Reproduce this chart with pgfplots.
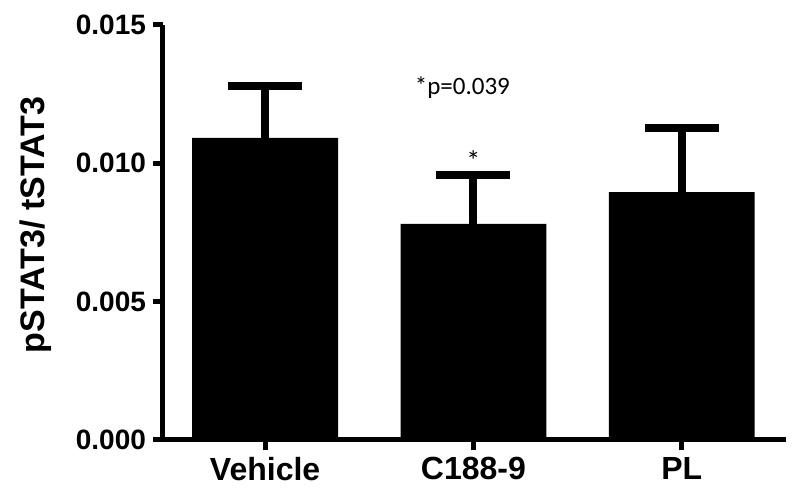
\documentclass[border=0pt]{standalone}
\usepackage{pgfplots}
\pgfplotsset{compat=1.18}
\usepackage{fontspec}
\setmainfont{Liberation Sans}
\newfontfamily\calfont{Carlito}
\begin{document}
\begin{tikzpicture}
\begin{axis}[
 at={(0,0)}, anchor=south west,
 scale only axis, width=311.5pt, height=207.5pt,
 xmin=-0.49, xmax=2.5, ymin=0, ymax=0.015,
 clip=false,
 axis x line*=bottom, axis y line*=left,
 axis line style={line width=2.5pt, black},
 xtick={0,1,2}, xticklabels={Vehicle,C188-9,PL},
 ytick={0,0.005,0.01,0.015},
 tick align=outside,
 major tick length=5pt,
 tick style={line width=2.5pt, black},
 scaled y ticks=false,
 /pgf/number format/assume math mode=true,
 yticklabel style={/pgf/number format/.cd, fixed, fixed zerofill, precision=3, /tikz/.cd, font=\fontsize{14}{16}\selectfont\bfseries},
 xticklabel style={font=\fontsize{16}{18}\selectfont\bfseries},
 ylabel={pSTAT3/ tSTAT3},
 ylabel style={at={(axis description cs:-0.205,0.518)}, anchor=center, font=\fontsize{17}{19}\selectfont\bfseries},
]
\addplot[ybar, bar width=0.7, fill=black, draw=none,
  error bars/.cd, y dir=plus, y explicit,
  error bar style={line width=4pt, black},
  error mark=|,
  error mark options={mark size=18.5pt, line width=4pt, black}]
  table[x=x, y=y, y error=e] {
x y e
0 0.01092 0.00188
1 0.00781 0.00177
2 0.00896 0.00232
};
\node[font=\calfont\fontsize{12.5}{14}\selectfont] at (axis cs:0.947,0.01272) {*p=0.039};
\node[font=\calfont\fontsize{14}{14}\selectfont] at (axis cs:1,0.0101) {*};
\end{axis}
\pgfresetboundingbox
\path (-81.5pt,-28pt) rectangle (318.5pt,220pt);
\end{tikzpicture}
\end{document}
